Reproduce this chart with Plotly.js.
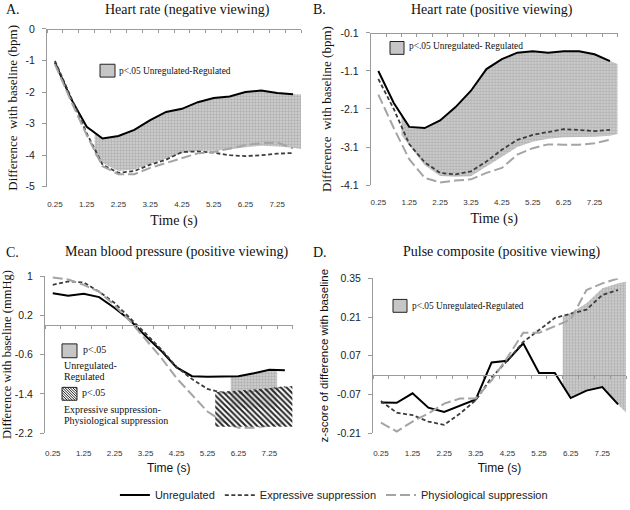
<!DOCTYPE html>
<html>
<head>
<meta charset="utf-8">
<script src="https://cdn.plot.ly/plotly-3.0.1.min.js"></script>
<style>html,body{margin:0;padding:0;background:#fff;}#chart{width:630px;height:510px;}</style>
</head>
<body>
<div id="chart"></div>
<script>
// ---------- data ----------
const time = [0.25, 0.75, 1.25, 1.75, 2.25, 2.75, 3.25, 3.75, 4.25, 4.75, 5.25, 5.75, 6.25, 6.75, 7.25, 7.75];
const timeTickVals = [0.25, 1.25, 2.25, 3.25, 4.25, 5.25, 6.25, 7.25];
const timeTickText = ["0.25", "1.25", "2.25", "3.25", "4.25", "5.25", "6.25", "7.25"];
const seriesNames = ["Unregulated", "Expressive suppression", "Physiological suppression"];

// A. Heart rate (negative viewing)
const hrNegUnreg = [-1.06, -2.2, -3.1, -3.47, -3.39, -3.2, -2.89, -2.63, -2.53, -2.32, -2.19, -2.14, -2.0, -1.95, -2.03, -2.07];
const hrNegExpr  = [-1.01, -2.15, -3.3, -4.3, -4.56, -4.5, -4.3, -4.14, -3.9, -3.88, -3.92, -4.0, -4.03, -4.0, -3.95, -3.93];
const hrNegPhys  = [-1.12, -2.27, -3.36, -4.35, -4.6, -4.6, -4.4, -4.25, -4.1, -3.94, -3.9, -3.78, -3.68, -3.62, -3.6, -3.78];
const hrNegBandX  = [1.5, 1.75, 2.25, 2.75, 3.25, 3.75, 4.25, 4.75, 5.25, 5.75, 6.25, 6.75, 7.25, 7.75, 8.0];
const hrNegBandHi = [-3.3, -3.47, -3.39, -3.2, -2.89, -2.63, -2.53, -2.32, -2.19, -2.14, -2.0, -1.95, -2.03, -2.07, -2.08];
const hrNegBandLo = [-3.99, -4.25, -4.5, -4.45, -4.28, -4.12, -3.94, -3.86, -3.86, -3.82, -3.75, -3.7, -3.72, -3.76, -3.8];
const hrNegTickVals = [0, -1, -2, -3, -4, -5];
const hrNegTickText = ["0", "-1", "-2", "-3", "-4", "-5"];

// B. Heart rate (positive viewing)
const hrPosUnreg = [-1.1, -1.94, -2.57, -2.6, -2.4, -2.05, -1.62, -1.05, -0.79, -0.62, -0.58, -0.62, -0.58, -0.58, -0.66, -0.84];
const hrPosExpr  = [-1.31, -2.1, -3.02, -3.5, -3.78, -3.82, -3.74, -3.48, -3.17, -2.91, -2.78, -2.7, -2.63, -2.65, -2.68, -2.65];
const hrPosPhys  = [-1.72, -2.6, -3.42, -3.91, -4.03, -3.98, -3.95, -3.78, -3.65, -3.3, -3.13, -3.03, -3.04, -3.04, -3.0, -2.91];
const hrPosBandX  = [1.0, 1.25, 1.75, 2.25, 2.75, 3.25, 3.75, 4.25, 4.75, 5.25, 5.75, 6.25, 6.75, 7.25, 7.75, 8.0];
const hrPosBandHi = [-2.28, -2.57, -2.6, -2.4, -2.05, -1.62, -1.05, -0.79, -0.62, -0.58, -0.62, -0.58, -0.58, -0.66, -0.84, -0.92];
const hrPosBandLo = [-2.79, -3.06, -3.58, -3.86, -3.88, -3.87, -3.62, -3.35, -3.1, -2.96, -2.88, -2.84, -2.83, -2.83, -2.8, -2.76];
const hrPosTickVals = [-0.1, -1.1, -2.1, -3.1, -4.1];
const hrPosTickText = ["-0.1", "-1.1", "-2.1", "-3.1", "-4.1"];

// C. Mean blood pressure (positive viewing)
const mbpUnreg = [0.65, 0.6, 0.64, 0.57, 0.35, 0.1, -0.22, -0.52, -0.86, -1.04, -1.05, -1.05, -1.04, -0.98, -0.91, -0.92];
const mbpExpr  = [0.82, 0.89, 0.87, 0.68, 0.45, 0.15, -0.17, -0.49, -0.85, -1.1, -1.3, -1.38, -1.38, -1.35, -1.3, -1.26];
const mbpPhys  = [0.97, 0.93, 0.82, 0.68, 0.4, 0.08, -0.29, -0.66, -1.08, -1.42, -1.76, -1.97, -2.09, -2.09, -2.05, -2.0];
const mbpBandX  = [6.0, 6.25, 6.75, 7.25, 7.5];
const mbpBandHi = [-1.05, -1.04, -0.98, -0.91, -0.91];
const mbpBandLo = [-1.7, -1.7, -1.7, -1.7, -1.7];
const mbpHatchX  = [5.5, 6.75, 8.0];
const mbpHatchHi = [-1.36, -1.31, -1.24];
const mbpHatchLo = [-2.07, -2.07, -2.07];
const mbpTickVals = [1, 0.2, -0.6, -1.4, -2.2];
const mbpTickText = ["1", "0.2", "-0.6", "-1.4", "-2.2"];

// D. Pulse composite (positive viewing)
const pulseUnreg = [-0.099, -0.1, -0.066, -0.118, -0.133, -0.111, -0.088, 0.046, 0.052, 0.115, 0.008, 0.008, -0.083, -0.056, -0.043, -0.106];
const pulseExpr  = [-0.094, -0.136, -0.145, -0.168, -0.18, -0.139, -0.091, -0.008, 0.052, 0.12, 0.163, 0.207, 0.222, 0.237, 0.29, 0.308];
const pulsePhys  = [-0.172, -0.204, -0.168, -0.139, -0.103, -0.085, -0.085, -0.019, 0.064, 0.153, 0.153, 0.177, 0.201, 0.308, 0.332, 0.35];
const pulseBandX  = [6.0, 6.25, 6.75, 7.25, 7.75, 8.0];
const pulseBandHi = [0.213, 0.225, 0.26, 0.314, 0.332, 0.338];
const pulseBandLo = [-0.038, -0.083, -0.056, -0.043, -0.106, -0.135];
const pulseTickVals = [0.35, 0.21, 0.07, -0.07, -0.21];
const pulseTickText = ["0.35", "0.21", "0.07", "-0.07", "-0.21"];

// ---------- styling ----------
const W = 630, H = 510;
const px = v => v / W;
const py = v => 1 - v / H;
const SERIF = "Liberation Serif, Times New Roman, serif";
const SANS = "Liberation Sans Narrow, Liberation Sans, Arial, sans-serif";
const AXC = "#9a9a9a";

const lineStyles = [
  {color: "#000000", width: 2, dash: "solid"},
  {color: "#3c3c3c", width: 1.8, dash: "4px,2.5px"},
  {color: "#a4a4a4", width: 2, dash: "10px,4px"}
];
const grayPattern = {shape: "+", fgcolor: "#a9a9a9", bgcolor: "#cacaca", size: 3, solidity: 0.3};
const hatchPattern = {shape: "\\", fgcolor: "#262626", bgcolor: "rgba(255,255,255,0.55)", size: 4, solidity: 0.5};

const panels = [
  {k: "", xd: [47, 301], yd: [29.3, 189], yr: [-5, 0], tv: hrNegTickVals, tt: hrNegTickText,
   series: [hrNegUnreg, hrNegExpr, hrNegPhys], band: [hrNegBandX, hrNegBandHi, hrNegBandLo],
   lineAt: "top", ytitle: "Difference  with baseline (bpm)", yfont: SERIF, ysize: 13, xfont: SERIF, xsize: 14,
   tstand: 11, xstand: 7},
  {k: "2", xd: [370.6, 617.7], yd: [33.3, 187.3], yr: [-4.1, -0.1], tv: hrPosTickVals, tt: hrPosTickText,
   series: [hrPosUnreg, hrPosExpr, hrPosPhys], band: [hrPosBandX, hrPosBandHi, hrPosBandLo],
   lineAt: "top", ytitle: "Difference  with baseline (bpm)", yfont: SERIF, ysize: 13, xfont: SERIF, xsize: 14,
   tstand: 11, xstand: 7},
  {k: "3", xd: [45, 292.6], yd: [279.3, 438.3], yr: [-2.2, 1], tv: mbpTickVals, tt: mbpTickText,
   series: [mbpUnreg, mbpExpr, mbpPhys], band: [mbpBandX, mbpBandHi, mbpBandLo],
   hatch: [mbpHatchX, mbpHatchHi, mbpHatchLo],
   lineAt: "zero", ytitle: "Difference with baseline (mmHg)", yfont: SERIF, ysize: 12.5, xfont: SANS, xsize: 12,
   tstand: 14, xstand: 6},
  {k: "4", xd: [373, 626], yd: [281.7, 438.3], yr: [-0.21, 0.35], tv: pulseTickVals, tt: pulseTickText,
   series: [pulseUnreg, pulseExpr, pulsePhys], band: [pulseBandX, pulseBandHi, pulseBandLo],
   lineAt: "zero", ytitle: "z-score of difference with baseline", yfont: SANS, ysize: 11.5, xfont: SANS, xsize: 12,
   tstand: 14, xstand: 6}
];

const traces = [];
const layout = {
  width: W, height: H,
  margin: {l: 0, r: 0, t: 0, b: 0},
  paper_bgcolor: "#fff", plot_bgcolor: "#fff",
  showlegend: true,
  legend: {orientation: "h", x: 0.53, xanchor: "center", y: py(501), yanchor: "middle",
           font: {family: SANS, size: 11, color: "#222"}, itemwidth: 30, tracegroupgap: 0, bgcolor: "rgba(0,0,0,0)"},
  annotations: [], shapes: []
};

const catEdges = [];
for (let e = 0; e <= 8.0001; e += 0.5) catEdges.push(e);

function bandTrace(b, xa, ya, pattern) {
  const [bx, hi, lo] = b;
  return {
    type: "scatter", mode: "lines", xaxis: xa, yaxis: ya,
    x: bx.concat(bx.slice().reverse()),
    y: hi.concat(lo.slice().reverse()),
    fill: "toself", fillcolor: "#c8c8c8", fillpattern: pattern,
    line: {width: 0}, showlegend: false, hoverinfo: "skip"
  };
}

panels.forEach((p, idx) => {
  const xa = "x" + p.k, ya = "y" + p.k;
  const xkey = "xaxis" + p.k, ykey = "yaxis" + p.k;
  const topKey = "xaxis" + (5 + idx), topId = "x" + (5 + idx);
  const yDom = [py(p.yd[1]), py(p.yd[0])];

  traces.push(bandTrace(p.band, xa, ya, grayPattern));
  p.series.forEach((s, si) => {
    traces.push({
      type: "scatter", mode: "lines", xaxis: xa, yaxis: ya,
      x: time, y: s, name: seriesNames[si], legendgroup: seriesNames[si],
      showlegend: idx === 0, line: lineStyles[si], hoverinfo: "x+y"
    });
  });
  if (p.hatch) traces.push(bandTrace(p.hatch, xa, ya, hatchPattern));

  layout[xkey] = {
    domain: [px(p.xd[0]), px(p.xd[1])], range: [0, 8], anchor: ya, fixedrange: true,
    tickmode: "array", tickvals: timeTickVals, ticktext: timeTickText,
    ticks: "", showline: false, zeroline: false, showgrid: false,
    tickfont: {family: SANS, size: 8, color: "#333"}, ticklabelstandoff: p.tstand,
    title: {text: "Time (s)", font: {family: p.xfont, size: p.xsize, color: "#111"}, standoff: p.xstand}
  };
  layout[ykey] = {
    domain: yDom, range: p.yr, anchor: xa, fixedrange: true,
    tickmode: "array", tickvals: p.tv, ticktext: p.tt,
    ticks: "outside", ticklen: 4, tickcolor: AXC, showline: true, linecolor: AXC, linewidth: 1,
    zeroline: false, showgrid: false,
    tickfont: {family: SANS, size: 10.5, color: "#222"}, ticklabelstandoff: 5,
    title: {text: p.ytitle, font: {family: p.yfont, size: p.ysize, color: "#111"}, standoff: 5}
  };
  // horizontal axis line with category tick marks (top for A/B, at zero for C/D)
  let pos;
  if (p.lineAt === "top") pos = yDom[1];
  else pos = yDom[0] + (0 - p.yr[0]) / (p.yr[1] - p.yr[0]) * (yDom[1] - yDom[0]);
  layout[topKey] = {
    overlaying: xa, anchor: "free", position: pos, side: "bottom", range: [0, 8], fixedrange: true,
    tickmode: "array", tickvals: catEdges, ticks: "outside", ticklen: 3, tickcolor: AXC,
    showticklabels: false, showline: true, linecolor: AXC, linewidth: 1, showgrid: false, zeroline: false
  };
  traces.push({type: "scatter", mode: "lines", xaxis: topId, yaxis: ya, x: [0, 8], y: [null, null],
               showlegend: false, hoverinfo: "skip"});
});

// ---------- titles ----------
function ann(text, x, y, opts) {
  layout.annotations.push(Object.assign({
    text: text, x: px(x), y: py(y), xref: "paper", yref: "paper",
    showarrow: false, xanchor: "left", yanchor: "middle",
    font: {family: SERIF, size: 14, color: "#111"}
  }, opts || {}));
}
ann("A.", 4, 10);
ann("Heart rate (negative viewing)", 187, 10, {xanchor: "center"});
ann("B.", 311, 10);
ann("Heart rate (positive viewing)", 492, 10, {xanchor: "center"});
ann("C.", 4, 255);
ann("Mean blood pressure (positive viewing)", 177, 255, {xanchor: "center"});
ann("D.", 311, 255);
ann("Pulse composite (positive viewing)", 502, 255, {xanchor: "center"});

// ---------- in-plot significance keys ----------
const keyFont = {family: SERIF, size: 9.4, color: "#111"};
function grayKey(x0, y0, x1, y1) {
  layout.shapes.push({type: "rect", xref: "paper", yref: "paper", x0: px(x0), x1: px(x1), y0: py(y1), y1: py(y0),
                      fillcolor: "#c6c6c6", line: {color: "#222", width: 1}});
}
grayKey(100, 65, 115, 78);
ann("p<.05 Unregulated-Regulated", 117, 72, {font: keyFont});
grayKey(390, 42, 404, 55);
ann("p<.05 Unregulated- Regulated", 407, 47, {font: keyFont});
grayKey(393, 303, 407, 316);
ann("p<.05 Unregulated-Regulated", 410, 310, {font: keyFont});

const cFont = {family: SERIF, size: 10, color: "#111"};
grayKey(62, 348, 77, 362);
ann("p<.05", 81, 354, {font: cFont});
ann("Unregulated-", 62, 370, {font: cFont});
ann("Regulated", 62, 381, {font: cFont});
// hatched key
(function () {
  const x0 = 62, y0 = 392, w = 15, h = 13, s = 2.6;
  let d = "";
  for (let c = -h; c < w; c += s) {
    const t0 = Math.max(0, -c), t1 = Math.min(h, w - c);
    if (t1 > t0) d += "M" + px(x0 + c + t0) + "," + py(y0 + t0) + " L" + px(x0 + c + t1) + "," + py(y0 + t1) + " ";
  }
  layout.shapes.push({type: "rect", xref: "paper", yref: "paper", x0: px(x0), x1: px(x0 + w), y0: py(y0 + h), y1: py(y0),
                      fillcolor: "#ffffff", line: {color: "#222", width: 1}});
  layout.shapes.push({type: "path", xref: "paper", yref: "paper", path: d, line: {color: "#222", width: 1}});
})();
ann("p<.05", 80, 397, {font: cFont});
ann("Expressive suppression-", 62, 414, {font: cFont});
ann("Physiological suppression", 62, 425, {font: cFont});

Plotly.newPlot("chart", traces, layout, {staticPlot: true, displayModeBar: false});
</script>
</body>
</html>
